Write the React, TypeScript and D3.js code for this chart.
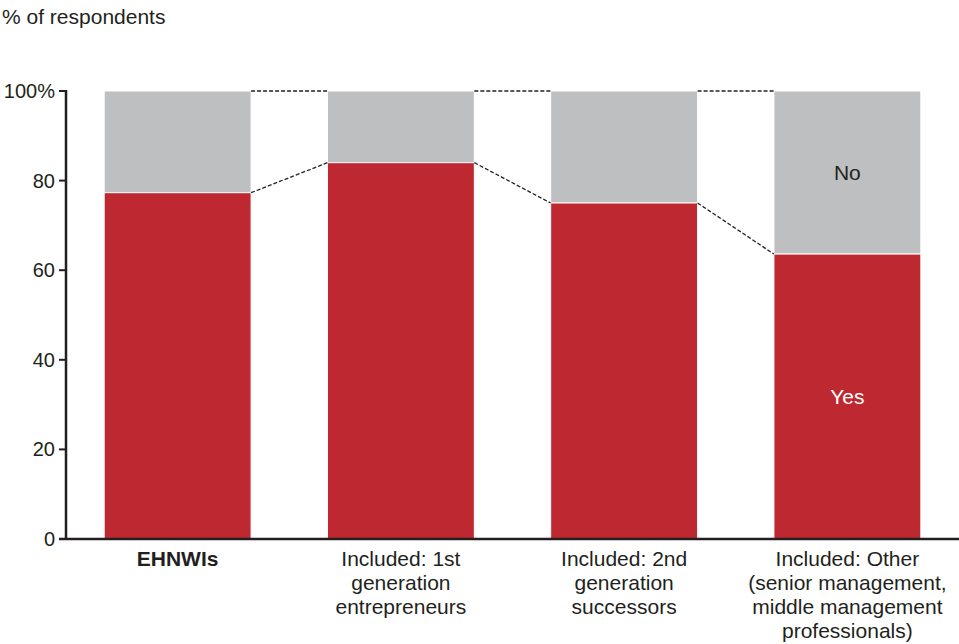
import React from "react";
import * as d3 from "d3";

const categories = [
  "EHNWIs",
  "Included: 1st generation entrepreneurs",
  "Included: 2nd generation successors",
  "Included: Other (senior management, middle management professionals)",
];
const categoryLines = [
  ["EHNWIs"],
  ["Included: 1st", "generation", "entrepreneurs"],
  ["Included: 2nd", "generation", "successors"],
  ["Included: Other", "(senior management,", "middle management", "professionals)"],
];
const yesValues = [77.3, 84, 75, 63.6];
const noValues = yesValues.map((v) => 100 - v);
const yTicks = [0, 20, 40, 60, 80, 100];

const width = 959;
const height = 644;
const RED = "#be2830";
const GRAY = "#bebfc1";
const TEXT = "#231f20";
const FONT = "'Liberation Sans', Arial, sans-serif";

export default function App() {
  const x = d3.scaleBand().domain(categories).range([66, 959]).paddingInner(0.342).paddingOuter(0.171);
  const y = d3.scaleLinear().domain([0, 100]).range([539, 91]);
  const bw = x.bandwidth();

  return (
    <svg
      width={width}
      height={height}
      style={{ position: "absolute", left: 0, top: 0, fontFamily: FONT }}
    >
      <text x={2} y={24} fontSize={21} fill={TEXT}>% of respondents</text>

      {/* bars */}
      {categories.map((c, i) => (
        <g key={c}>
          <rect x={x(c)} y={y(100)} width={bw} height={y(yesValues[i]) - y(100)} fill={GRAY} stroke="#fff" strokeWidth={1} />
          <rect x={x(c)} y={y(yesValues[i])} width={bw} height={y(0) - y(yesValues[i])} fill={RED} stroke="#fff" strokeWidth={1} />
        </g>
      ))}

      {/* connectors */}
      {categories.slice(0, -1).map((c, i) => {
        const x1 = (x(c) as number) + bw;
        const x2 = x(categories[i + 1]) as number;
        return (
          <g key={"conn" + i} stroke="#222" strokeWidth={1.3} strokeDasharray="4,2">
            <line x1={x1} x2={x2} y1={y(100)} y2={y(100)} />
            <line x1={x1} x2={x2} y1={y(yesValues[i])} y2={y(yesValues[i + 1])} />
          </g>
        );
      })}

      {/* segment labels on last bar */}
      {(() => {
        const c = categories[categories.length - 1];
        const cx = (x(c) as number) + bw / 2;
        const last = yesValues.length - 1;
        return (
          <g fontSize={21} textAnchor="middle">
            <text x={cx} y={y(100 - noValues[last] / 2) + 7.5} fill={TEXT}>No</text>
            <text x={cx} y={y(yesValues[last] / 2) + 7.5} fill="#fff">Yes</text>
          </g>
        );
      })()}

      {/* y axis */}
      <line x1={66} x2={66} y1={y(100) - 1} y2={y(0)} stroke={TEXT} strokeWidth={2.5} />
      {yTicks.map((t) => (
        <g key={t}>
          <line x1={59} x2={66} y1={y(t)} y2={y(t)} stroke={TEXT} strokeWidth={2} />
          <text x={55} y={y(t) + 7} fontSize={20} textAnchor="end" fill={TEXT}>
            {t === 100 ? "100%" : t}
          </text>
        </g>
      ))}
      <line x1={59} x2={959} y1={y(0)} y2={y(0)} stroke={TEXT} strokeWidth={2.5} />

      {/* x labels */}
      {categories.map((c, i) => (
        <text
          key={"lab" + c}
          x={(x(c) as number) + bw / 2}
          fontSize={21}
          textAnchor="middle"
          fill={TEXT}
          fontWeight={i === 0 ? "bold" : "normal"}
        >
          {categoryLines[i].map((l, j) => (
            <tspan key={j} x={(x(c) as number) + bw / 2} y={565.5 + j * 24}>{l}</tspan>
          ))}
        </text>
      ))}
    </svg>
  );
}
